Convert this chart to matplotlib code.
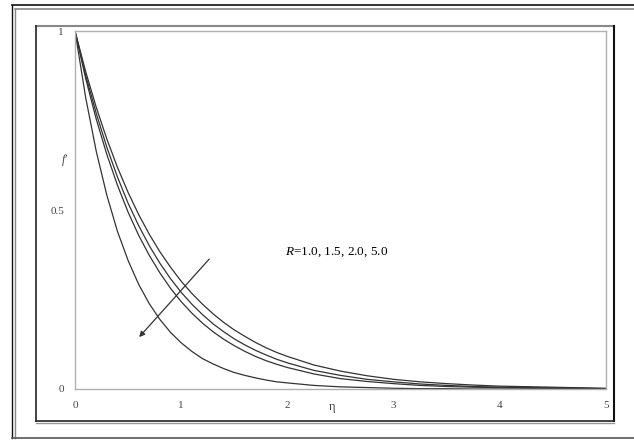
import matplotlib

matplotlib.use("Agg")
import matplotlib.pyplot as plt
from matplotlib.lines import Line2D

plt.rcParams["font.family"] = "Liberation Serif"
plt.rcParams["mathtext.fontset"] = "custom"
plt.rcParams["mathtext.rm"] = "Liberation Serif"
plt.rcParams["mathtext.it"] = "Liberation Serif:italic"

# ── Data ────────────────────────────────────────────────────────
eta = [0.0, 0.1, 0.2, 0.3, 0.4, 0.5, 0.6, 0.7, 0.8, 0.9, 1.0, 1.1, 1.2, 1.3, 1.4,
       1.5, 1.6, 1.7, 1.8, 1.9, 2.0, 2.25, 2.5, 2.75, 3.0, 3.25, 3.5, 3.75,
       4.0, 4.5, 5.0]
f_R1 = [1.0, 0.887, 0.787, 0.698, 0.619, 0.549, 0.487, 0.432, 0.383, 0.340, 0.301,
        0.267, 0.237, 0.210, 0.186, 0.165, 0.147, 0.130, 0.115, 0.102, 0.091,
        0.067, 0.050, 0.037, 0.027, 0.020, 0.015, 0.011, 0.008, 0.005, 0.002]
f_R15 = [1.0, 0.877, 0.770, 0.675, 0.592, 0.519, 0.456, 0.400, 0.351, 0.308, 0.270,
         0.237, 0.208, 0.182, 0.160, 0.140, 0.123, 0.108, 0.095, 0.083, 0.073,
         0.052, 0.038, 0.027, 0.020, 0.014, 0.010, 0.007, 0.005, 0.003, 0.001]
f_R2 = [1.0, 0.868, 0.754, 0.655, 0.569, 0.494, 0.429, 0.373, 0.324, 0.281, 0.244,
        0.212, 0.184, 0.160, 0.139, 0.121, 0.105, 0.091, 0.079, 0.069, 0.060,
        0.042, 0.029, 0.021, 0.015, 0.010, 0.007, 0.005, 0.004, 0.002, 0.001]
f_R5 = [1.0, 0.815, 0.664, 0.541, 0.440, 0.359, 0.292, 0.238, 0.194, 0.158, 0.129,
        0.105, 0.085, 0.070, 0.057, 0.046, 0.038, 0.031, 0.025, 0.020, 0.017,
        0.010, 0.006, 0.004, 0.002, 0.001, 0.001, 0.0, 0.0, 0.0, 0.0]
curves = [f_R1, f_R15, f_R2, f_R5]

x_ticks = [0, 1, 2, 3, 4, 5]
x_tick_labels = ["0", "1", "2", "3", "4", "5"]
y_ticks = [0, 0.5, 1]
y_tick_labels = ["0", "0.5", "1"]

label_text = "$R$=1.0, 1.5, 2.0, 5.0"
arrow_start = (1.264, 0.363)
arrow_end = (0.604, 0.145)

W, H = 634, 440
fig = plt.figure(figsize=(W / 100, H / 100), dpi=100)


def px_line(xs, ys, color, lw):
    # figure-pixel helper for the frame lines (y measured from top)
    fig.add_artist(Line2D([x / W for x in xs], [1 - y / H for y in ys],
                          transform=fig.transFigure, color=color, lw=lw))


# outer double frame
px_line([11.5, 634], [5.5, 5.5], "#111111", 1.2)
px_line([14.5, 634], [9.5, 9.5], "#888888", 1.2)
px_line([11.5, 11.5], [5.5, 438], "#111111", 1.0)
px_line([14.5, 14.5], [9.5, 438], "#888888", 1.0)
px_line([11.5, 634], [438, 438], "#555555", 1.2)

# chart box with shadow
px_line([35.5, 614], [26, 26], "#888888", 1.5)
px_line([35.5, 35.5], [26, 421], "#222222", 1.2)
px_line([614, 614], [26, 421], "#111111", 1.5)
px_line([35.5, 614], [421, 421], "#222222", 1.2)
px_line([35.5, 614], [422.5, 422.5], "#999999", 1.0)

# ── Plot area ───────────────────────────────────────────────────
ax = fig.add_axes([75 / W, 1 - 389 / H, 531 / W, 358 / H])
for f in curves:
    ax.plot(eta, f, color="#333333", lw=0.9)

ax.set_xlim(0, 5)
ax.set_ylim(0, 1)
for side in ax.spines.values():
    side.set_color("#b0b0b0")
    side.set_linewidth(1.0)

ax.set_xticks(x_ticks)
ax.set_xticklabels(x_tick_labels)
ax.set_yticks(y_ticks)
ax.set_yticklabels(y_tick_labels)
ax.tick_params(length=0, labelsize=8, labelcolor="#444444")
ax.tick_params(axis="x", pad=9)
ax.tick_params(axis="y", pad=8)

ax.text(-0.1, 0.64, "f'", fontsize=8.5, style="italic", color="#444444",
        ha="center", va="center")
ax.text(2.42, -0.05, "η", fontsize=9, color="#444444", ha="center", va="center")
ax.text(1.98, 0.383, label_text, fontsize=9.5, color="black", ha="left", va="center")

ax.annotate("", xy=arrow_end, xytext=arrow_start,
            arrowprops=dict(arrowstyle="-|>", color="#333333", lw=0.9,
                            mutation_scale=8, shrinkA=0, shrinkB=0))

fig.savefig("out.png", dpi=100)
